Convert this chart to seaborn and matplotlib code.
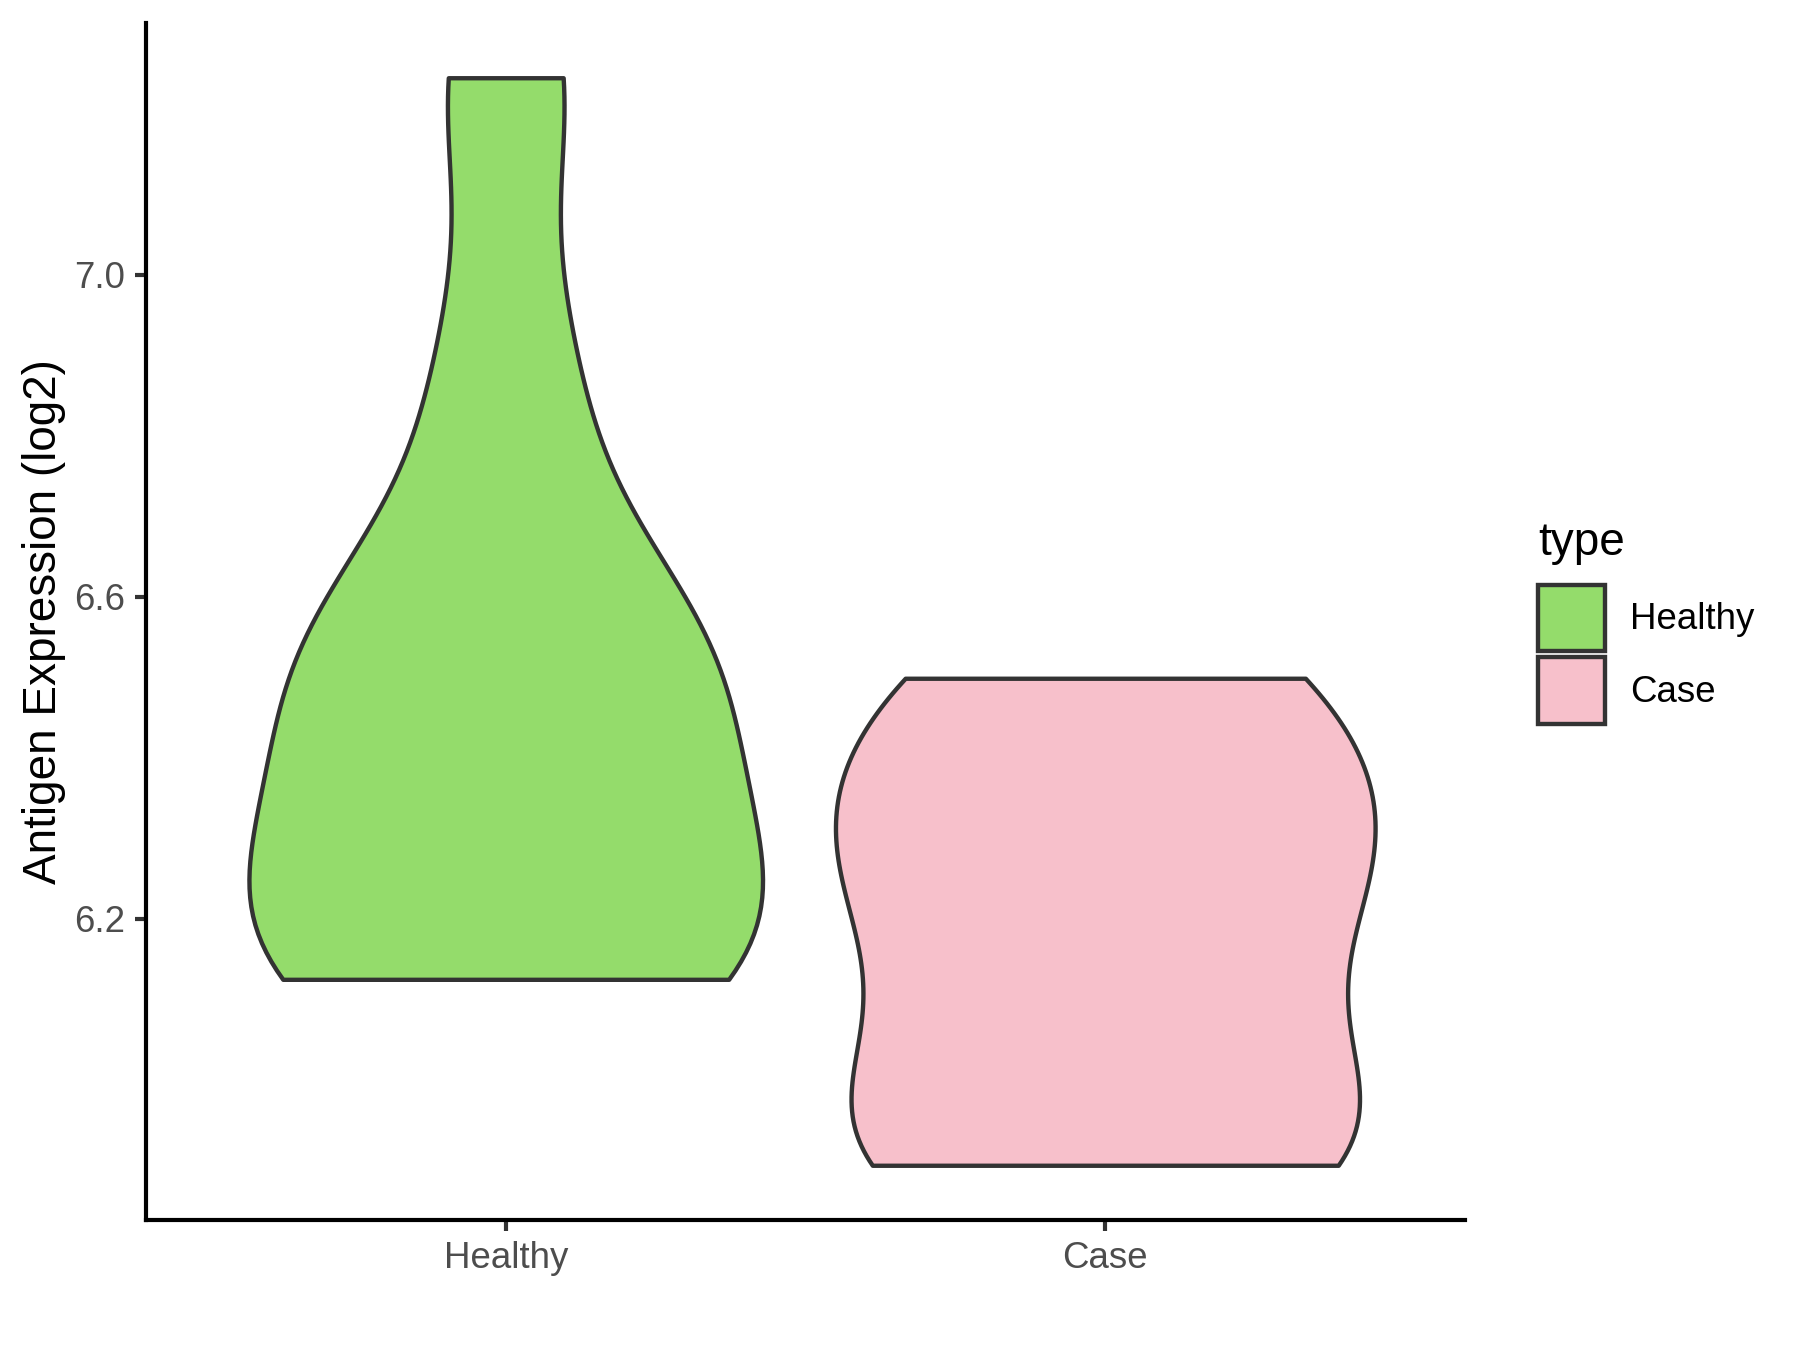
import numpy as np
import pandas as pd
import matplotlib
matplotlib.use("Agg")
import matplotlib.pyplot as plt
from matplotlib.patches import Patch
import seaborn as sns

# ---- data ----
categories = ["Healthy", "Case"]
healthy_values = [6.125, 6.125, 6.210, 6.211, 6.383, 6.452, 6.570, 6.582, 6.876, 7.245]
case_values = [5.894, 5.904, 5.911, 6.043, 6.161, 6.249, 6.312, 6.359, 6.499, 6.499]
colors = {"Healthy": "#94DC6B", "Case": "#F7C0CB"}
y_ticks = [6.2, 6.6, 7.0]
y_tick_labels = ["6.2", "6.6", "7.0"]

df = pd.DataFrame({
    "type": ["Healthy"] * len(healthy_values) + ["Case"] * len(case_values),
    "value": healthy_values + case_values,
})


def bw_nrd0(kde):
    # R's default bandwidth rule (bw.nrd0) expressed as a scipy factor
    x = np.asarray(kde.dataset).ravel()
    sd = np.std(x, ddof=1)
    q75, q25 = np.percentile(x, [75, 25])
    lo = min(sd, (q75 - q25) / 1.34)
    if lo <= 0:
        lo = sd
    return 0.9 * lo * len(x) ** -0.2 / sd


sns.set_style("ticks")
plt.rcParams["font.family"] = ["Liberation Sans", "DejaVu Sans"]

fig = plt.figure(figsize=(6, 4.5), dpi=300)
ax = fig.add_axes([146 / 1800, 1 - 1220 / 1350, (1465 - 146) / 1800, (1220 - 23) / 1350])

sns.violinplot(
    data=df, x="type", y="value", hue="type", order=categories, hue_order=categories,
    palette=colors, density_norm="area", common_norm=True, cut=0, inner=None,
    width=0.9, linewidth=1.05, linecolor="#333333", bw_method=bw_nrd0,
    saturation=1, legend=False, ax=ax,
)

ax.set_xlim(-0.6, 1.6)
ax.set_ylim(5.826, 7.313)
ax.set_yticks(y_ticks)
ax.set_yticklabels(y_tick_labels)
ax.set_xlabel("")
ax.set_ylabel("Antigen Expression (log2)", fontsize=11, color="black", labelpad=2.0)

for side in ["top", "right"]:
    ax.spines[side].set_visible(False)
for side in ["left", "bottom"]:
    ax.spines[side].set_color("black")
    ax.spines[side].set_linewidth(1.0)
ax.tick_params(axis="both", direction="out", length=2.75, width=1.0, color="#333333",
               labelsize=8.8, labelcolor="#4D4D4D", pad=2.2)

handles = [Patch(facecolor=colors[c], edgecolor="#333333", linewidth=1.05, label=c) for c in categories]
leg = fig.legend(
    handles=handles, title="type", loc="upper left", bbox_to_anchor=(1538 / 1800, 1 - 521 / 1350),
    frameon=False, fontsize=8.8, title_fontsize=11, handlelength=1.82, handleheight=2.42,
    handletextpad=0.68, labelspacing=0.16, borderpad=0, borderaxespad=0, alignment="left",
    labelcolor="black",
)
leg.get_title().set_color("black")
leg._legend_box.sep = 4.7

fig.savefig("out.png", dpi=300)
